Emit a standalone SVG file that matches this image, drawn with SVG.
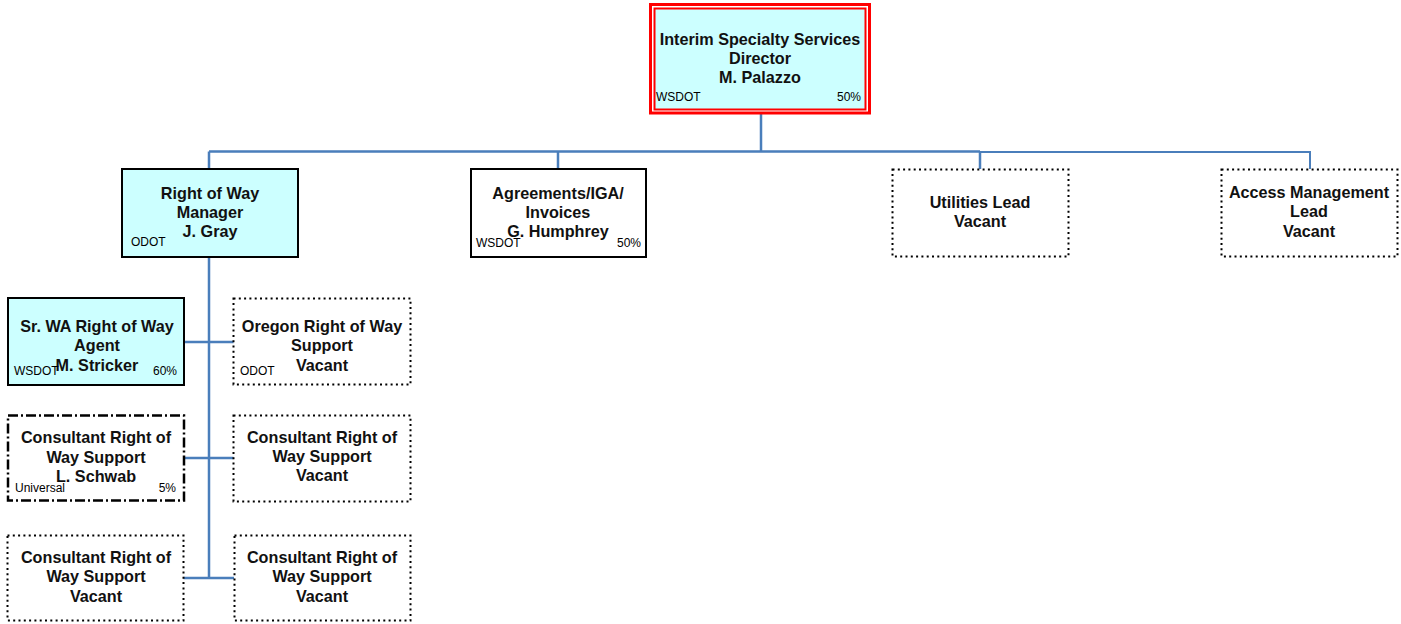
<svg xmlns="http://www.w3.org/2000/svg" width="1401" height="624" viewBox="0 0 1401 624">
  <style>
    .bg { fill: #ffffff; }
    .filled { fill: #ccffff; }
    .plain { fill: #ffffff; }
    .solid { stroke: #000000; stroke-width: 2; }
    .dotted { fill: #ffffff; stroke: #000000; stroke-width: 2; stroke-dasharray: 2 3.3; }
    .dashdot { fill: #ffffff; stroke: #000000; stroke-width: 2.5; stroke-dasharray: 10 3 2 3; }
    .title { font-family: "Liberation Sans", Arial, sans-serif; font-size: 16.2px; font-weight: bold; fill: #111111; text-anchor: middle; }
    .tag { font-family: "Liberation Sans", Arial, sans-serif; font-size: 12px; fill: #000000; }
    .pct { font-family: "Liberation Sans", Arial, sans-serif; font-size: 12px; fill: #000000; text-anchor: end; }
    .conn { fill: none; stroke: #4a7ebb; stroke-width: 2.5; }
  </style>
  <rect class="bg" x="0" y="0" width="1401" height="624"/>

  <g id="connectors">
    <path class="conn" d="M761,114 V151.5 M209,151.5 H980 M209,151.5 V169 M558,151.5 V169 M980,151.5 V169"/>
    <path class="conn" style="stroke-width:2" d="M980,152 H1310 V169"/>
    <path class="conn" d="M209,257 V578 M184,342 H234 M184,458 H234 M183,578 H234"/>
  </g>

  <g id="director">
    <rect x="650.5" y="4.5" width="219" height="108.5" fill="#ffffff" stroke="#ff0000" stroke-width="3"/>
    <rect class="filled" x="654.5" y="8.5" width="211" height="101" stroke="#ff0000" stroke-width="2"/>
    <text class="title" x="760" y="45">Interim Specialty Services</text>
    <text class="title" x="760" y="64">Director</text>
    <text class="title" x="760" y="83">M. Palazzo</text>
    <text class="tag" x="656" y="101">WSDOT</text>
    <text class="pct" x="861" y="101">50%</text>
  </g>

  <g id="row-manager">
    <rect class="filled solid" x="122" y="169" width="176" height="88"/>
    <text class="title" x="210" y="199">Right of Way</text>
    <text class="title" x="210" y="218">Manager</text>
    <text class="title" x="210" y="237">J. Gray</text>
    <text class="tag" x="131" y="246">ODOT</text>
  </g>

  <g id="agreements">
    <rect class="plain solid" x="471" y="169" width="175" height="88"/>
    <text class="title" x="558" y="199">Agreements/IGA/</text>
    <text class="title" x="558" y="218">Invoices</text>
    <text class="title" x="558" y="237">G. Humphrey</text>
    <text class="tag" x="476" y="247">WSDOT</text>
    <text class="pct" x="641" y="247">50%</text>
  </g>

  <g id="utilities-lead">
    <rect class="dotted" x="892.5" y="169.5" width="176" height="87"/>
    <text class="title" x="980" y="208">Utilities Lead</text>
    <text class="title" x="980" y="227">Vacant</text>
  </g>

  <g id="access-lead">
    <rect class="dotted" x="1221.5" y="169.5" width="176" height="87"/>
    <text class="title" x="1309" y="198">Access Management</text>
    <text class="title" x="1309" y="217">Lead</text>
    <text class="title" x="1309" y="237">Vacant</text>
  </g>

  <g id="sr-wa-agent">
    <rect class="filled solid" x="8" y="298" width="176" height="87"/>
    <text class="title" x="97" y="332">Sr. WA Right of Way</text>
    <text class="title" x="97" y="351">Agent</text>
    <text class="title" x="97" y="371">M. Stricker</text>
    <text class="tag" x="14" y="375">WSDOT</text>
    <text class="pct" x="177" y="375">60%</text>
  </g>

  <g id="oregon-support">
    <rect class="dotted" x="233.5" y="298.5" width="177" height="86"/>
    <text class="title" x="322" y="332">Oregon Right of Way</text>
    <text class="title" x="322" y="351">Support</text>
    <text class="title" x="322" y="371">Vacant</text>
    <text class="tag" x="240" y="375">ODOT</text>
  </g>

  <g id="consultant-schwab">
    <rect class="dashdot" x="8" y="415.5" width="176" height="85"/>
    <text class="title" x="96" y="443">Consultant Right of</text>
    <text class="title" x="96" y="463">Way Support</text>
    <text class="title" x="96" y="482">L. Schwab</text>
    <text class="tag" x="15" y="492">Universal</text>
    <text class="pct" x="176" y="492">5%</text>
  </g>

  <g id="consultant-vacant-1">
    <rect class="dotted" x="233.5" y="415.5" width="177" height="86"/>
    <text class="title" x="322" y="443">Consultant Right of</text>
    <text class="title" x="322" y="462">Way Support</text>
    <text class="title" x="322" y="481">Vacant</text>
  </g>

  <g id="consultant-vacant-2">
    <rect class="dotted" x="7.5" y="535.5" width="176" height="85"/>
    <text class="title" x="96" y="563">Consultant Right of</text>
    <text class="title" x="96" y="582">Way Support</text>
    <text class="title" x="96" y="602">Vacant</text>
  </g>

  <g id="consultant-vacant-3">
    <rect class="dotted" x="234.5" y="535.5" width="176" height="85"/>
    <text class="title" x="322" y="563">Consultant Right of</text>
    <text class="title" x="322" y="582">Way Support</text>
    <text class="title" x="322" y="602">Vacant</text>
  </g>
</svg>
